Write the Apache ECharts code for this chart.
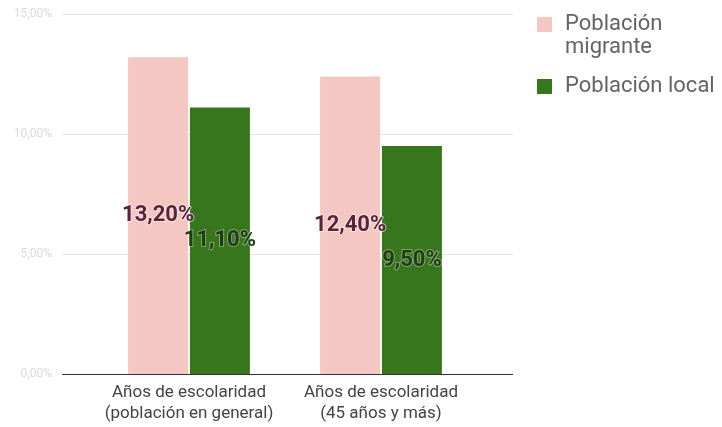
<!DOCTYPE html>
<html>
<head>
<meta charset="utf-8">
<script src="https://cdn.jsdelivr.net/npm/echarts@6/dist/echarts.min.js"></script>
<style>
  html, body { margin: 0; padding: 0; background: #fff; }
  #chart { width: 722px; height: 427px; }
</style>
</head>
<body>
<div id="chart"></div>
<script>
// Categories and values (percent)
const categories = [
  'Años de escolaridad\n(población en general)',
  'Años de escolaridad\n(45 años y más)'
];
const migrante = [13.2, 12.4];
const local = [11.1, 9.5];
const yTicks = [0, 5, 10, 15];

const fmtPct = v => v.toFixed(2).replace('.', ',') + '%';

const chart = echarts.init(document.getElementById('chart'));
chart.setOption({
  backgroundColor: '#ffffff',
  animation: false,
  textStyle: { fontFamily: 'Roboto, sans-serif' },
  legend: {
    orient: 'vertical',
    left: 537,
    top: -10,
    padding: 0,
    itemWidth: 15,
    itemHeight: 15,
    itemGap: 16,
    icon: 'rect',
    textStyle: { fontSize: 22, color: '#646464', lineHeight: 23, padding: [0, 0, 0, 8] },
    // leading blank line keeps the first line of the wrapped name level with its swatch
    formatter: name => name === 'Población migrante' ? '\nPoblación\nmigrante' : name,
    data: ['Población migrante', 'Población local']
  },
  grid: [
    // wide grid: carries the value gridlines
    { left: 62, right: 209, top: 14, bottom: 53, containLabel: false },
    // inner grid: carries the bars
    { left: 93, right: 245, top: 14, bottom: 53, containLabel: false }
  ],
  xAxis: [
    {
      gridIndex: 0, type: 'value', min: 0, max: 1, show: false
    },
    {
      gridIndex: 1,
      type: 'category',
      data: categories,
      axisLine: { show: false },
      axisTick: { show: false },
      axisLabel: { interval: 0, color: '#444', fontSize: 17, lineHeight: 21, margin: 8 }
    }
  ],
  yAxis: [
    {
      gridIndex: 0,
      type: 'value',
      min: yTicks[0],
      max: yTicks[yTicks.length - 1],
      interval: 5,
      axisLine: { show: false },
      axisTick: { show: false },
      splitLine: { lineStyle: { color: '#e4e4e4', width: 1 } },
      axisLabel: { color: '#dadada', fontSize: 12, margin: 10, formatter: v => fmtPct(v) }
    },
    {
      gridIndex: 1,
      type: 'value',
      min: yTicks[0],
      max: yTicks[yTicks.length - 1],
      interval: 5,
      show: false
    }
  ],
  series: [
    {
      name: 'Población migrante',
      type: 'bar',
      xAxisIndex: 1,
      yAxisIndex: 1,
      data: migrante,
      barWidth: 60,
      barGap: '3%',
      itemStyle: { color: '#f4c7c3' },
      label: {
        show: true,
        position: 'inside',
        formatter: p => fmtPct(p.value),
        color: '#5b2238',
        fontSize: 22,
        fontWeight: 'bold',
        textBorderColor: 'rgba(255,255,255,0.55)',
        textBorderWidth: 2
      }
    },
    {
      name: 'Población local',
      type: 'bar',
      xAxisIndex: 1,
      yAxisIndex: 1,
      data: local,
      barWidth: 60,
      itemStyle: { color: '#38761d' },
      label: {
        show: true,
        position: 'inside',
        formatter: p => fmtPct(p.value),
        color: '#213d15',
        fontSize: 22,
        fontWeight: 'bold',
        textBorderColor: 'rgba(255,255,255,0.35)',
        textBorderWidth: 2
      }
    },
    {
      // baseline at zero across the full plot width
      type: 'line',
      xAxisIndex: 0,
      yAxisIndex: 0,
      data: [],
      silent: true,
      markLine: {
        silent: true,
        symbol: 'none',
        label: { show: false },
        lineStyle: { color: '#333', width: 1, type: 'solid' },
        data: [[{ coord: [0, 0] }, { coord: [1, 0] }]]
      }
    }
  ]
});
</script>
</body>
</html>
